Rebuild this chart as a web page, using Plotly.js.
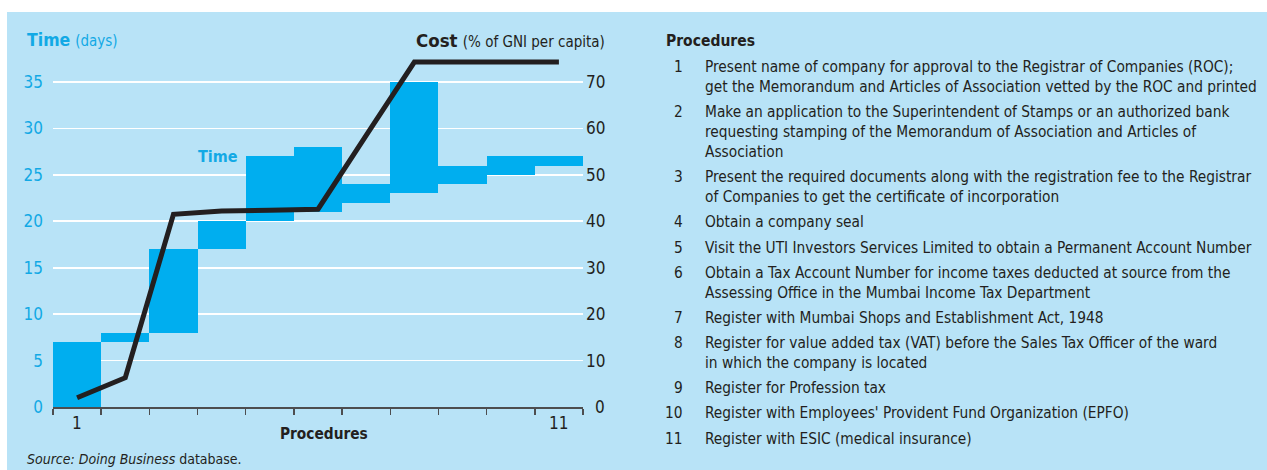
<!DOCTYPE html>
<html>
<head>
<meta charset="utf-8">
<script src="https://cdn.plot.ly/plotly-3.0.1.min.js"></script>
<style>html,body{margin:0;padding:0;background:#fff;}#chart{width:1267px;height:470px;}</style>
</head>
<body>
<div id="chart"></div>
<script>
// ---- data ----
const procedures = [1, 2, 3, 4, 5, 6, 7, 8, 9, 10, 11];
const timeStart = [0, 7, 8, 17, 20, 21, 22, 23, 24, 25, 26];
const timeEnd   = [7, 8, 17, 20, 27, 28, 24, 35, 26, 27, 27];
const costCumulative = [2, 6.3, 41.5, 42.2, 42.4, 42.6, 58.5, 74.3, 74.3, 74.3, 74.3];
const timeTicks = [0, 5, 10, 15, 20, 25, 30, 35];
const costTicks = [0, 10, 20, 30, 40, 50, 60, 70];
const xLabelPositions = [1, 11];
const xLabelTexts = ['1', '11'];
const procedureSteps = [
  ["Present name of company for approval to the Registrar of Companies (ROC);",
   "get the Memorandum and Articles of Association vetted by the ROC and printed"],
  ["Make an application to the Superintendent of Stamps or an authorized bank",
   "requesting stamping of the Memorandum of Association and Articles of",
   "Association"],
  ["Present the required documents along with the registration fee to the Registrar",
   "of Companies to get the certificate of incorporation"],
  ["Obtain a company seal"],
  ["Visit the UTI Investors Services Limited to obtain a Permanent Account Number"],
  ["Obtain a Tax Account Number for income taxes deducted at source from the",
   "Assessing Office in the Mumbai Income Tax Department"],
  ["Register with Mumbai Shops and Establishment Act, 1948"],
  ["Register for value added tax (VAT) before the Sales Tax Officer of the ward",
   "in which the company is located"],
  ["Register for Profession tax"],
  ["Register with Employees' Provident Fund Organization (EPFO)"],
  ["Register with ESIC (medical insurance)"]
];

// ---- layout geometry ----
const W = 1267, H = 470;
const L = 53, R = 583, T = 50, B = 407;
const px = x => (x - L) / (R - L);
const py = y => (B - y) / (B - T);
const pxPerDay = (B - 82) / 35;
const yMax = (B - T) / pxPerDay;

const FONT = '"DejaVu Sans Condensed", "Liberation Sans", sans-serif';
const DARK = '#231f20';
const CYAN = '#00aeef';
const CYANTXT = '#12a9e5';
const PANEL = '#b8e3f7';
const LIST_SIZE = 15.3;

const barTrace = {
  type: 'bar',
  x: procedures,
  base: timeStart,
  y: timeEnd.map((e, i) => e - timeStart[i]),
  width: 1,
  marker: {color: CYAN, line: {width: 0}},
  hoverinfo: 'skip',
  showlegend: false
};
const costTrace = {
  type: 'scatter',
  mode: 'lines',
  x: procedures,
  y: costCumulative,
  yaxis: 'y2',
  line: {color: DARK, width: 5},
  hoverinfo: 'skip',
  showlegend: false
};

const annotations = [];
// left titles
annotations.push({xref: 'paper', yref: 'paper', x: px(25), y: py(40), xanchor: 'left', yanchor: 'middle',
  text: "<b>Time</b> <span style='font-size:15px;'>(days)</span>", showarrow: false,
  font: {family: FONT, size: 17.5, color: CYANTXT}});
annotations.push({xref: 'paper', yref: 'paper', x: px(607), y: py(40), xanchor: 'right', yanchor: 'middle',
  text: "<b>Cost</b> <span style='font-size:15px;'>(% of GNI per capita)</span>", showarrow: false,
  font: {family: FONT, size: 18.5, color: DARK}});
// Time label inside chart
annotations.push({xref: 'paper', yref: 'paper', x: px(218), y: py(156), xanchor: 'center', yanchor: 'middle',
  text: '<b>Time</b>', showarrow: false, font: {family: FONT, size: 16, color: CYANTXT}});
// right axis tick labels
costTicks.forEach(v => annotations.push({xref: 'paper', yref: 'y2', x: px(607), y: v, xanchor: 'right', yanchor: 'middle',
  text: String(v), showarrow: false, font: {family: FONT, size: 17, color: DARK}}));
// x labels
xLabelPositions.forEach((v, i) => annotations.push({xref: 'x', yref: 'paper', x: v, y: py(423), xanchor: 'center', yanchor: 'middle',
  text: xLabelTexts[i], showarrow: false, font: {family: FONT, size: 17, color: DARK}}));
// x axis title
annotations.push({xref: 'paper', yref: 'paper', x: px(324), y: py(434), xanchor: 'center', yanchor: 'middle',
  text: '<b>Procedures</b>', showarrow: false, font: {family: FONT, size: 15.3, color: DARK}});
// source
annotations.push({xref: 'paper', yref: 'paper', x: px(25), y: py(459), xanchor: 'left', yanchor: 'middle',
  text: '<i>Source: Doing Business</i> database.', showarrow: false, font: {family: FONT, size: 14, color: DARK}});
// procedures list
annotations.push({xref: 'paper', yref: 'paper', x: px(664), y: py(41), xanchor: 'left', yanchor: 'middle',
  text: '<b>Procedures</b>', showarrow: false, font: {family: FONT, size: 15.5, color: DARK}});
let yLine = 67.3;
procedureSteps.forEach((lines, i) => {
  annotations.push({xref: 'paper', yref: 'paper', x: px(685), y: py(yLine), xanchor: 'right', yanchor: 'middle',
    text: String(procedures[i]), showarrow: false, font: {family: FONT, size: LIST_SIZE, color: DARK}});
  lines.forEach((ln, j) => {
    if (j > 0) yLine += 19.9;
    annotations.push({xref: 'paper', yref: 'paper', x: px(703), y: py(yLine), xanchor: 'left', yanchor: 'middle',
      text: ln, showarrow: false, font: {family: FONT, size: LIST_SIZE, color: DARK}});
  });
  yLine += 25.2;
});

const xBoundaries = procedures.map(p => p - 0.5).concat([procedures[procedures.length - 1] + 0.5]);

const layout = {
  width: W, height: H,
  margin: {l: L, r: W - R, t: T, b: H - B, pad: 0},
  paper_bgcolor: PANEL,
  plot_bgcolor: 'rgba(0,0,0,0)',
  bargap: 0,
  showlegend: false,
  font: {family: FONT, color: DARK},
  xaxis: {
    range: [0.5, 11.5], tickvals: xBoundaries, ticktext: xBoundaries.map(() => ''),
    showticklabels: false, ticks: 'outside', ticklen: 6, tickwidth: 1.5, tickcolor: '#4d4d4f',
    showline: true, linecolor: '#4d4d4f', linewidth: 1.5, showgrid: false, zeroline: false, fixedrange: true
  },
  yaxis: {
    range: [0, yMax], tickvals: timeTicks, ticks: '', ticklabelstandoff: 9,
    tickfont: {family: FONT, size: 17, color: CYANTXT},
    showgrid: true, gridcolor: '#ffffff', gridwidth: 1.6, zeroline: false, showline: false, fixedrange: true
  },
  yaxis2: {
    range: [0, 2 * yMax], overlaying: 'y', side: 'right', showticklabels: false, showgrid: false,
    zeroline: false, showline: false, ticks: '', fixedrange: true
  },
  shapes: [
    {type: 'rect', xref: 'paper', yref: 'paper', x0: px(0), x1: px(W), y0: py(0), y1: py(12), fillcolor: '#ffffff', line: {width: 0}, layer: 'below'},
    {type: 'rect', xref: 'paper', yref: 'paper', x0: px(0), x1: px(7), y0: py(0), y1: py(H), fillcolor: '#ffffff', line: {width: 0}, layer: 'below'}
  ],
  annotations: annotations
};

Plotly.newPlot('chart', [barTrace, costTrace], layout, {staticPlot: true, displayModeBar: false});
</script>
</body>
</html>
